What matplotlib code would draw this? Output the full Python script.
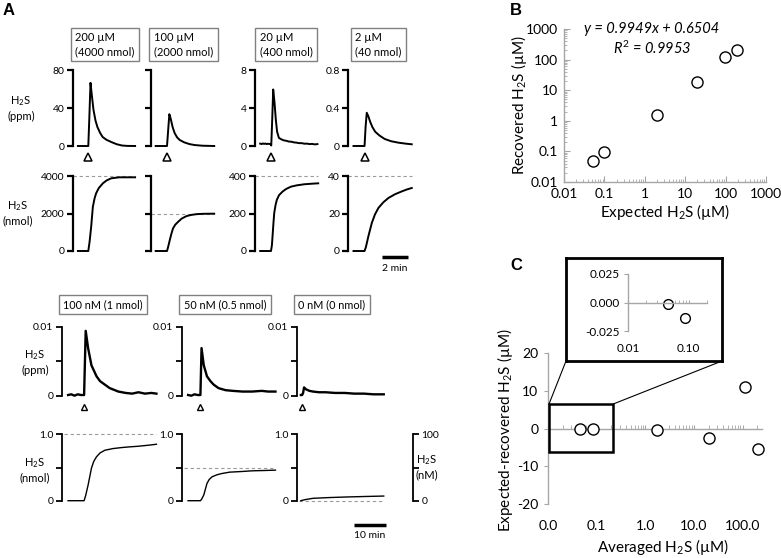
import matplotlib
matplotlib.use("Agg")
import matplotlib.pyplot as plt
from matplotlib.transforms import blended_transform_factory
from matplotlib.patches import Rectangle, ConnectionPatch
from matplotlib.ticker import LogLocator, NullFormatter

plt.rcParams['font.family'] = ['Lato', 'DejaVu Sans']
plt.rcParams['mathtext.fontset'] = 'custom'
plt.rcParams['mathtext.rm'] = 'Lato'
plt.rcParams['mathtext.it'] = 'Lato:italic'
plt.rcParams['mathtext.bf'] = 'Lato:bold'

# ---------------- data: panel A, top (µM doses, time in min) ----------------
top_labels = ["200 µM\n(4000 nmol)", "100 µM\n(2000 nmol)", "20 µM\n(400 nmol)", "2 µM\n(40 nmol)"]
top_ppm_max = [80, 80, 8, 0.8]
top_ppm_ticklabels = [["0", "40", "80"], None, ["0", "4", "8"], ["0", "0.4", "0.8"]]
top_nmol_max = [4000, 4000, 400, 40]
top_nmol_ticklabels = [["0", "2000", "4000"], None, ["0", "200", "400"], ["0", "20", "40"]]
top_expected = [4000, 2000, 400, 40]
top_inject = [0.8, 0.87, 0.83, 0.85]

ppm_t = [
    [0, 0.8, 0.88, 0.97, 1.05, 1.2, 1.35, 1.5, 1.7, 1.9, 2.2, 2.6, 3.0, 3.4, 3.8, 4.4],
    [0, 0.87, 0.95, 1.05, 1.15, 1.3, 1.46, 1.65, 1.85, 2.2, 2.6, 3.0, 3.6, 4.5],
    [0, 0.1, 0.2, 0.3, 0.4, 0.5, 0.6, 0.7, 0.8, 0.85, 0.93, 1.0, 1.1, 1.2, 1.3, 1.44, 1.6, 1.8,
     2.0, 2.2, 2.4, 2.6, 2.8, 3.0, 3.2, 3.4, 3.6, 3.8, 4.0, 4.2, 4.4],
    [0, 0.85, 0.93, 1.02, 1.15, 1.28, 1.45, 1.67, 2.0, 2.4, 2.9, 3.46, 4.0, 4.48],
]
ppm_v = [
    [0, 0, 30, 66.5, 56, 38, 27, 20, 14, 9.5, 6.5, 4, 1.8, 0.5, 0.1, 0],
    [0, 0, 15, 33.5, 29, 20, 13.5, 9, 6.3, 3.8, 2.0, 1.0, 0.3, 0],
    [0.25, 0.2, 0.27, 0.22, 0.26, 0.2, 0.24, 0.21, 0.22, 0.05, 3.0, 5.95, 4.6, 2.8, 1.5, 0.85, 0.72,
     0.6, 0.55, 0.47, 0.45, 0.38, 0.35, 0.3, 0.3, 0.24, 0.25, 0.2, 0.22, 0.17, 0.2],
    [0, 0, 0.2, 0.35, 0.31, 0.256, 0.2, 0.15, 0.11, 0.074, 0.05, 0.035, 0.025, 0.018],
]
nmol_t = [
    [0, 0.8, 0.9, 1.02, 1.15, 1.28, 1.4, 1.6, 1.92, 2.2, 2.56, 3.2, 4.4],
    [0, 0.87, 0.95, 1.08, 1.2, 1.33, 1.5, 1.72, 2.0, 2.36, 2.7, 3.13, 3.7, 4.5],
    [0, 0.83, 0.9, 0.95, 1.02, 1.08, 1.18, 1.28, 1.45, 1.72, 2.0, 2.36, 2.8, 3.4, 4.0, 4.46],
    [0, 0.85, 0.95, 1.05, 1.15, 1.28, 1.41, 1.65, 1.92, 2.3, 2.69, 3.2, 3.72, 4.1, 4.48],
]
nmol_v = [
    [0, 0, 500, 1285, 2356, 2800, 3074, 3350, 3609, 3760, 3877, 3930, 3930],
    [0, 0, 200, 573, 900, 1200, 1400, 1553, 1730, 1858, 1920, 1965, 1985, 1990],
    [0, 0, 30, 79, 150, 203, 245, 273, 298, 317, 331, 343, 350, 356, 359, 361],
    [0, 0, 2, 5, 8, 11.5, 15, 19.5, 23, 26, 28.3, 30.3, 31.8, 32.8, 33.6],
]

# ---------------- data: panel A, bottom (nM doses) ----------------
low_labels = ["100 nM (1 nmol)", "50 nM (0.5 nmol)", "0 nM (0 nmol)"]
low_expected = [1.0, 0.5, 0.0]
low_inject = [5.0, 3.85, -0.4]
low_ppm_t = [
    [0, 1, 2, 3, 4, 5, 5.5, 6.25, 7.3, 8.9, 10, 11.5, 13, 15.7, 18, 20, 22, 24, 26, 27.6],
    [0, 1, 2, 3, 3.85, 4.2, 4.9, 5.9, 7, 8, 9.5, 11.7, 14, 17, 20, 23, 25, 27.3],
    [-0.7, -0.3, 0.0, 0.3, 1, 2, 3.1, 5, 7, 10, 13, 16, 19, 22, 25.2],
]
low_ppm_v = [
    [0.0001, 0.0002, 0.0, 0.0002, 0.0001, 0.0001, 0.0094, 0.0069, 0.0044, 0.0028, 0.0021, 0.0016,
     0.0011, 0.0006, 0.0004, 0.0003, 0.0005, 0.0003, 0.0004, 0.0003],
    [0.0001, 0.0, 0.0002, 0.0001, 0.0001, 0.0069, 0.0044, 0.0028, 0.0021, 0.0016, 0.0011, 0.0008,
     0.0007, 0.0006, 0.0006, 0.0007, 0.0006, 0.0006],
    [0.0001, 0.0001, 0.0004, 0.0012, 0.0009, 0.0007, 0.0006, 0.0005, 0.0005, 0.0004, 0.0004,
     0.0003, 0.0003, 0.0002, 0.0002],
]
low_nmol_t = [
    [0, 5, 5.5, 6.25, 7.3, 8.0, 8.85, 10, 11.5, 14, 16.7, 19, 21.9, 25, 27.6],
    [0, 3.85, 4.2, 4.9, 5.9, 6.6, 7.5, 9, 10.6, 13, 16.9, 20, 24, 27.3],
    [-0.7, 0.5, 3.1, 8, 13.6, 19, 25.2],
]
low_nmol_v = [
    [0, 0, 0.08, 0.236, 0.49, 0.59, 0.66, 0.72, 0.76, 0.785, 0.80, 0.81, 0.82, 0.835, 0.85],
    [0, 0, 0.02, 0.086, 0.26, 0.32, 0.36, 0.39, 0.41, 0.43, 0.44, 0.45, 0.455, 0.46],
    [0, 0.015, 0.036, 0.047, 0.056, 0.063, 0.07],
]

# ---------------- data: panels B and C ----------------
b_expected = [0.052, 0.095, 2.0, 19.5, 96, 190]
b_recovered = [0.049, 0.095, 1.55, 18.5, 118, 204]
b_ticks = [0.01, 0.1, 1, 10, 100, 1000]
b_ticklabels = ["0.01", "0.1", "1", "10", "100", "1000"]

c_averaged = [0.045, 0.086, 1.7, 20, 110, 210]
c_difference = [-0.001, -0.014, -0.5, -2.4, 11.1, -5.3]
c_xticks = [0.01, 0.1, 1, 10, 100]
c_xticklabels = ["0.0", "0.1", "1.0", "10.0", "100.0"]
c_yticks = [-20, -10, 0, 10, 20]
inset_xticks = [0.01, 0.1]
inset_xticklabels = ["0.01", "0.10"]
inset_yticks = [-0.025, 0.0, 0.025]
inset_yticklabels = ["-0.025", "0.000", "0.025"]

W, H = 781, 558
fig = plt.figure(figsize=(W / 100, H / 100), dpi=100)


def px_axes(left, top, width, height):
    return fig.add_axes([left / W, 1 - (top + height) / H, width / W, height / H])


def ftext(x, y, s, **kw):
    return fig.text(x / W, 1 - y / H, s, **kw)


def trace_axes(ax, ymax, ticklabels, xlim, lw, size):
    ax.set_xlim(xlim)
    ax.set_ylim(0, ymax)
    for s in ['top', 'right', 'bottom']:
        ax.spines[s].set_visible(False)
    ax.spines['left'].set_linewidth(lw)
    ax.set_xticks([])
    ax.set_yticks([0, ymax / 2, ymax])
    ax.set_yticklabels(ticklabels if ticklabels else [])
    ax.tick_params(axis='y', length=4, width=lw, labelsize=size, pad=2)
    ax.patch.set_visible(False)


GRAY = '#a6a6a6'
DASH = '#9a9a9a'
ASIZE = 7.5

# ---------------- panel A top ----------------
top_left = [72.7, 150.5, 255, 348.3]
xl_top = (-0.4, 4.6)
for i in range(4):
    ax = px_axes(top_left[i], 70, 65, 76)
    trace_axes(ax, top_ppm_max[i], top_ppm_ticklabels[i], xl_top, 1.6, ASIZE)
    ax.plot(ppm_t[i], ppm_v[i], color='black', lw=1.4, clip_on=False)
    tr = blended_transform_factory(ax.transData, ax.transAxes)
    ax.plot([top_inject[i]], [-0.145], marker='^', ms=6, mfc='white', mec='black', mew=1.1,
            transform=tr, clip_on=False)

    axn = px_axes(top_left[i], 176, 65, 75)
    trace_axes(axn, top_nmol_max[i], top_nmol_ticklabels[i], xl_top, 1.6, ASIZE)
    axn.plot([xl_top[0], nmol_t[i][-1]], [top_expected[i]] * 2, color=DASH, lw=0.8,
             ls=(0, (3, 2.5)), clip_on=False)
    axn.plot(nmol_t[i], nmol_v[i], color='black', lw=1.4, clip_on=False)
    if i == 3:
        trn = blended_transform_factory(axn.transData, axn.transAxes)
        axn.plot([2.2, 4.2], [-0.08, -0.08], color='black', lw=2.5, transform=trn,
                 clip_on=False, solid_capstyle='butt')
        axn.text(3.2, -0.23, "2 min", transform=trn, ha='center', va='center', fontsize=ASIZE)

top_box_cx = [105, 183.5, 286, 378.5]
for i in range(4):
    ftext(top_box_cx[i], 44.5, top_labels[i], ha='center', va='center', ma='left', fontsize=8,
          linespacing=1.3,
          bbox=dict(boxstyle='square,pad=0.4', fc='white', ec='#808080', lw=1))

ftext(21, 108, "H$_2$S\n(ppm)", ha='center', va='center', fontsize=8, linespacing=1.3)
ftext(18, 213, "H$_2$S\n(nmol)", ha='center', va='center', fontsize=8, linespacing=1.3)

# ---------------- panel A bottom ----------------
low_left = [61.7, 181.7, 296.7]
low_width = [97.6, 97.6, 116.3]
for i in range(3):
    xl = (-2, -2 + low_width[i] / 3.2)
    ax = px_axes(low_left[i], 326.7, low_width[i], 69)
    trace_axes(ax, 0.01, ["0", "", "0.01"], xl, 1.3, ASIZE)
    ax.plot(low_ppm_t[i], low_ppm_v[i], color='black', lw=1.7, clip_on=False)
    tr = blended_transform_factory(ax.transData, ax.transAxes)
    ax.plot([low_inject[i]], [-0.165], marker='^', ms=4.5, mfc='white', mec='black', mew=1.0,
            transform=tr, clip_on=False)

    axn = px_axes(low_left[i], 434.3, low_width[i], 66.4)
    trace_axes(axn, 1.0, ["0", "", "1.0"], xl, 1.3, ASIZE)
    axn.plot([xl[0] + 0.8, low_nmol_t[i][-1]], [low_expected[i]] * 2, color=DASH, lw=0.8,
             ls=(0, (3, 2.5)), clip_on=False)
    axn.plot(low_nmol_t[i], low_nmol_v[i], color='black', lw=1.0, clip_on=False)
    if i == 2:
        axr = axn.twinx()
        axr.set_ylim(0, 100)
        for s in ['top', 'left', 'bottom']:
            axr.spines[s].set_visible(False)
        axr.spines['right'].set_linewidth(1.3)
        axr.set_yticks([0, 50, 100])
        axr.set_yticklabels(["0", "", "100"])
        axr.tick_params(axis='y', length=4, width=1.3, labelsize=ASIZE, pad=2)
        trn = blended_transform_factory(axn.transData, axn.transAxes)
        axn.plot([15.8, 25.8], [-0.366, -0.366], color='black', lw=2.5, transform=trn,
                 clip_on=False, solid_capstyle='butt')
        axn.text(20.8, -0.53, "10 min", transform=trn, ha='center', va='center', fontsize=ASIZE)

low_box_cx = [103, 225, 332]
for i in range(3):
    ftext(low_box_cx[i], 304.5, low_labels[i], ha='center', va='center', fontsize=7.8,
          bbox=dict(boxstyle='square,pad=0.4', fc='white', ec='#808080', lw=1))

ftext(35, 362, "H$_2$S\n(ppm)", ha='center', va='center', fontsize=8, linespacing=1.3)
ftext(35, 470, "H$_2$S\n(nmol)", ha='center', va='center', fontsize=8, linespacing=1.3)
ftext(427, 467, "H$_2$S\n(nM)", ha='center', va='center', fontsize=8, linespacing=1.3)

# ---------------- panel B ----------------
axb = px_axes(564, 29, 202, 153)
axb.set_xscale('log')
axb.set_yscale('log')
axb.set_xlim(0.01, 1000)
axb.set_ylim(0.01, 1000)
for s in ['top', 'right']:
    axb.spines[s].set_visible(False)
for s in ['left', 'bottom']:
    axb.spines[s].set_color(GRAY)
    axb.spines[s].set_linewidth(1)
axb.set_xticks(b_ticks, b_ticklabels)
axb.set_yticks(b_ticks, b_ticklabels)
for axis in (axb.xaxis, axb.yaxis):
    axis.set_minor_locator(LogLocator(base=10, subs=range(2, 10)))
    axis.set_minor_formatter(NullFormatter())
axb.tick_params(which='major', direction='in', length=4, color=GRAY, labelsize=10, pad=4)
axb.tick_params(which='minor', direction='in', length=2.5, color=GRAY)
axb.plot(b_expected, b_recovered, 'o', ms=8, mfc='white', mec='black', mew=1, clip_on=False)
axb.set_xlabel("Expected H$_2$S (µM)", fontsize=11, labelpad=2)
ftext(519, 105, "Recovered H$_2$S (µM)", rotation=90, ha='center', va='center', fontsize=11)
ftext(652, 29, "y = 0.9949x + 0.6504", ha='center', va='center', fontsize=10.5, style='italic')
ftext(652, 48, "$R^2$ = 0.9953", ha='center', va='center', fontsize=10.5, style='italic')

# ---------------- panel C ----------------
axc = px_axes(548, 353, 214, 151)
axc.set_xscale('log')
axc.set_xlim(0.01, 250)
axc.set_ylim(-20, 20)
for s in ['top', 'right']:
    axc.spines[s].set_visible(False)
for s in ['left', 'bottom']:
    axc.spines[s].set_color(GRAY)
    axc.spines[s].set_linewidth(1)
axc.spines['bottom'].set_position(('data', 0))
axc.set_xticks(c_xticks)
axc.xaxis.set_minor_locator(LogLocator(base=10, subs=range(2, 10)))
axc.xaxis.set_minor_formatter(NullFormatter())
axc.tick_params(axis='x', which='both', direction='in', length=3, color=GRAY, labelbottom=False)
axc.set_yticks(c_yticks)
axc.set_yticklabels([str(v) for v in c_yticks])
axc.tick_params(axis='y', direction='out', length=3, color=GRAY, labelsize=10, pad=4)
trc = blended_transform_factory(axc.transData, axc.transAxes)
for xv, lab in zip(c_xticks, c_xticklabels):
    axc.text(xv, -0.145, lab, transform=trc, ha='center', va='center', fontsize=10)
axc.plot(c_averaged, c_difference, 'o', ms=8, mfc='white', mec='black', mew=1, clip_on=False,
         zorder=5)
axc.add_patch(Rectangle((0.0105, -6.2), 0.22 - 0.0105, 12.7, fill=False, ec='black', lw=1.8,
                        zorder=4))
ftext(663, 547, "Averaged H$_2$S (µM)", ha='center', va='center', fontsize=11)
ftext(505, 430, "Expected-recovered H$_2$S (µM)", rotation=90, ha='center', va='center',
      fontsize=11)

# inset
box = px_axes(566, 258, 156, 103)
box.set_xticks([])
box.set_yticks([])
for s in box.spines.values():
    s.set_linewidth(2)
    s.set_color('black')
box.set_zorder(3)

axi = px_axes(628, 274, 79, 57)
axi.set_zorder(4)
axi.patch.set_visible(False)
axi.set_xscale('log')
axi.set_xlim(0.01, 0.2)
axi.set_ylim(-0.025, 0.025)
for s in ['top', 'right']:
    axi.spines[s].set_visible(False)
for s in ['left', 'bottom']:
    axi.spines[s].set_color(GRAY)
    axi.spines[s].set_linewidth(1)
axi.spines['bottom'].set_position(('data', 0))
axi.set_xticks(inset_xticks)
axi.xaxis.set_minor_locator(LogLocator(base=10, subs=range(2, 10)))
axi.xaxis.set_minor_formatter(NullFormatter())
axi.tick_params(axis='x', which='both', direction='in', length=2.5, color=GRAY,
                labelbottom=False)
axi.set_yticks(inset_yticks)
axi.set_yticklabels(inset_yticklabels)
axi.tick_params(axis='y', direction='out', length=3, color=GRAY, labelsize=8.5, pad=3)
tri = blended_transform_factory(axi.transData, axi.transAxes)
for xv, lab in zip(inset_xticks, inset_xticklabels):
    axi.text(xv, -0.3, lab, transform=tri, ha='center', va='center', fontsize=8.5)
axi.plot(c_averaged[:2], c_difference[:2], 'o', ms=7, mfc='white', mec='black', mew=1,
         clip_on=False)

for corner_box, corner_data in [((0, 0), (0.0105, 6.5)), ((1, 0), (0.22, 6.5))]:
    con = ConnectionPatch(xyA=corner_box, coordsA=box.transAxes, xyB=corner_data,
                          coordsB=axc.transData, color='black', lw=0.8)
    fig.add_artist(con)

# panel letters
ftext(3, 3, "A", ha='left', va='top', fontsize=12, fontweight='bold', family='Liberation Sans')
ftext(510, 3, "B", ha='left', va='top', fontsize=12, fontweight='bold', family='Liberation Sans')
ftext(510, 258, "C", ha='left', va='top', fontsize=12, fontweight='bold', family='Liberation Sans')

fig.savefig("out.png", dpi=100)
